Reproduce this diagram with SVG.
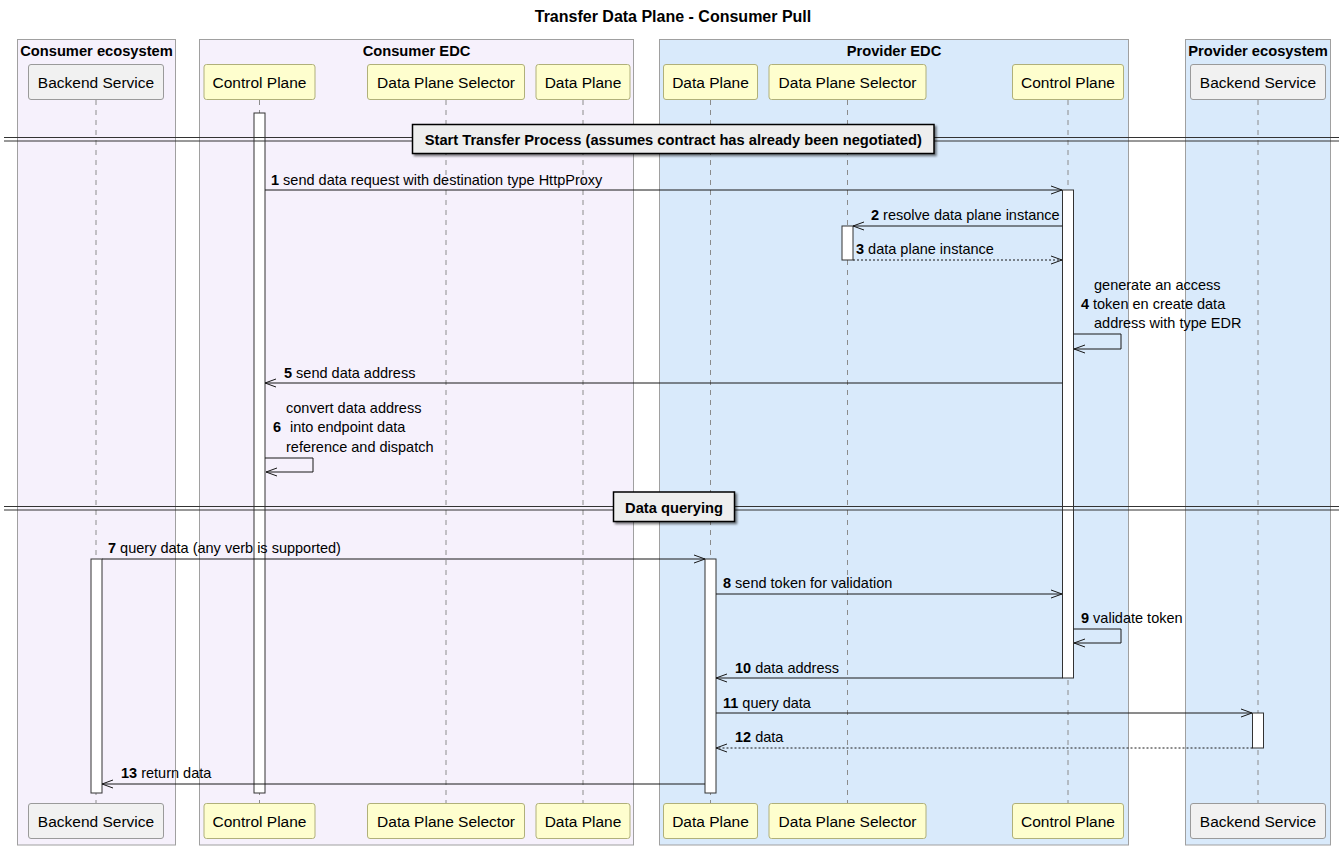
<svg xmlns="http://www.w3.org/2000/svg" width="1343" height="848" viewBox="0 0 1343 848">
<defs>
  <marker id="arrow" markerUnits="userSpaceOnUse" markerWidth="14" markerHeight="10" refX="11" refY="4" orient="auto" overflow="visible">
    <path d="M0,0 L11,4 L0,8" fill="none" stroke="#181818" stroke-width="1"/>
  </marker>
  <filter id="shadow" x="-5%" y="-20%" width="110%" height="150%">
    <feGaussianBlur in="SourceAlpha" stdDeviation="1.2"/>
    <feOffset dx="2" dy="2" result="o"/>
    <feComponentTransfer><feFuncA type="linear" slope="0.5"/></feComponentTransfer>
    <feMerge><feMergeNode/><feMergeNode in="SourceGraphic"/></feMerge>
  </filter>
</defs>
<style>
  text{font-family:"Liberation Sans",Arial,sans-serif;fill:#000}
  .title{font-size:16px;font-weight:bold}
  .box-title{font-size:14.7px;font-weight:bold}
  .p-label{font-size:15.5px}
  .msg{font-size:14.5px}
  .num{font-weight:bold}
  .grp-c{fill:#F6F1FC;stroke:#A0A0A0;stroke-width:1}
  .grp-p{fill:#D9EAFB;stroke:#A0A0A0;stroke-width:1}
  .part{fill:#FEFECE;stroke:#B0B07A;stroke-width:1}
  .ext{fill:#F1F1F1;stroke:#9A9A9A;stroke-width:1}
  .life{stroke:#8C8C8C;stroke-width:1;stroke-dasharray:5,5}
  .act{fill:#FFFFFF;stroke:#333333;stroke-width:1}
  .msgline{stroke:#181818;stroke-width:1;fill:none;marker-end:url(#arrow)}
  .dotted{stroke-dasharray:2,2}
  .div-line{stroke:#333333;stroke-width:1}
  .div-box{fill:#EEEEEE;stroke:#000000;stroke-width:1.5}
</style>

<rect width="1343" height="848" fill="#FFFFFF"/>

<text class="title" x="673" y="22" text-anchor="middle">Transfer Data Plane - Consumer Pull</text>

<!-- participant group boxes -->
<g id="boxes">
  <g id="box-consumer-ecosystem">
    <rect class="grp-c" x="17.5" y="39.5" width="158" height="805.5"/>
    <text class="box-title" x="96.5" y="56" text-anchor="middle">Consumer ecosystem</text>
  </g>
  <g id="box-consumer-edc">
    <rect class="grp-c" x="199.5" y="39.5" width="434" height="805.5"/>
    <text class="box-title" x="416.5" y="56" text-anchor="middle">Consumer EDC</text>
  </g>
  <g id="box-provider-edc">
    <rect class="grp-p" x="659.5" y="39.5" width="469" height="805.5"/>
    <text class="box-title" x="894" y="56" text-anchor="middle">Provider EDC</text>
  </g>
  <g id="box-provider-ecosystem">
    <rect class="grp-p" x="1185.5" y="39.5" width="145" height="805.5"/>
    <text class="box-title" x="1258" y="56" text-anchor="middle">Provider ecosystem</text>
  </g>
</g>

<!-- participants: head, foot, lifeline, activations -->
<g id="consumer-backend">
  <line class="life" x1="96" y1="100" x2="96" y2="803"/>
  <rect class="ext" x="28.5" y="64.5" width="135" height="35" rx="2.5"/>
  <text class="p-label" x="96" y="87.5" text-anchor="middle">Backend Service</text>
  <rect class="ext" x="28.5" y="803.5" width="135" height="35" rx="2.5"/>
  <text class="p-label" x="96" y="826.5" text-anchor="middle">Backend Service</text>
  <rect class="act" x="91" y="559" width="11" height="234"/>
</g>
<g id="consumer-control-plane">
  <line class="life" x1="259.5" y1="100" x2="259.5" y2="803"/>
  <rect class="part" x="204" y="64.5" width="111" height="35" rx="2.5"/>
  <text class="p-label" x="259.5" y="87.5" text-anchor="middle">Control Plane</text>
  <rect class="part" x="204" y="803.5" width="111" height="35" rx="2.5"/>
  <text class="p-label" x="259.5" y="826.5" text-anchor="middle">Control Plane</text>
  <rect class="act" x="254" y="113" width="11" height="680"/>
</g>
<g id="consumer-data-plane-selector">
  <line class="life" x1="446" y1="100" x2="446" y2="803"/>
  <rect class="part" x="367.5" y="64.5" width="157" height="35" rx="2.5"/>
  <text class="p-label" x="446" y="87.5" text-anchor="middle">Data Plane Selector</text>
  <rect class="part" x="367.5" y="803.5" width="157" height="35" rx="2.5"/>
  <text class="p-label" x="446" y="826.5" text-anchor="middle">Data Plane Selector</text>
</g>
<g id="consumer-data-plane">
  <line class="life" x1="583" y1="100" x2="583" y2="803"/>
  <rect class="part" x="536" y="64.5" width="94" height="35" rx="2.5"/>
  <text class="p-label" x="583" y="87.5" text-anchor="middle">Data Plane</text>
  <rect class="part" x="536" y="803.5" width="94" height="35" rx="2.5"/>
  <text class="p-label" x="583" y="826.5" text-anchor="middle">Data Plane</text>
</g>
<g id="provider-data-plane">
  <line class="life" x1="710.5" y1="100" x2="710.5" y2="803"/>
  <rect class="part" x="663.5" y="64.5" width="94" height="35" rx="2.5"/>
  <text class="p-label" x="710.5" y="87.5" text-anchor="middle">Data Plane</text>
  <rect class="part" x="663.5" y="803.5" width="94" height="35" rx="2.5"/>
  <text class="p-label" x="710.5" y="826.5" text-anchor="middle">Data Plane</text>
  <rect class="act" x="705" y="559" width="11" height="234"/>
</g>
<g id="provider-data-plane-selector">
  <line class="life" x1="847.5" y1="100" x2="847.5" y2="803"/>
  <rect class="part" x="769" y="64.5" width="157" height="35" rx="2.5"/>
  <text class="p-label" x="847.5" y="87.5" text-anchor="middle">Data Plane Selector</text>
  <rect class="part" x="769" y="803.5" width="157" height="35" rx="2.5"/>
  <text class="p-label" x="847.5" y="826.5" text-anchor="middle">Data Plane Selector</text>
  <rect class="act" x="842" y="226" width="11" height="34"/>
</g>
<g id="provider-control-plane">
  <line class="life" x1="1068" y1="100" x2="1068" y2="803"/>
  <rect class="part" x="1012.5" y="64.5" width="111" height="35" rx="2.5"/>
  <text class="p-label" x="1068" y="87.5" text-anchor="middle">Control Plane</text>
  <rect class="part" x="1012.5" y="803.5" width="111" height="35" rx="2.5"/>
  <text class="p-label" x="1068" y="826.5" text-anchor="middle">Control Plane</text>
  <rect class="act" x="1062.5" y="190" width="11" height="488"/>
</g>
<g id="provider-backend">
  <line class="life" x1="1258" y1="100" x2="1258" y2="803"/>
  <rect class="ext" x="1190.5" y="64.5" width="135" height="35" rx="2.5"/>
  <text class="p-label" x="1258" y="87.5" text-anchor="middle">Backend Service</text>
  <rect class="ext" x="1190.5" y="803.5" width="135" height="35" rx="2.5"/>
  <text class="p-label" x="1258" y="826.5" text-anchor="middle">Backend Service</text>
  <rect class="act" x="1252.5" y="713" width="11" height="35"/>
</g>

<!-- section dividers -->
<g id="divider-start">
  <line class="div-line" x1="4" y1="137.5" x2="1339" y2="137.5"/>
  <line class="div-line" x1="4" y1="141" x2="1339" y2="141"/>
  <rect class="div-box" x="412.5" y="124.5" width="521.5" height="29" filter="url(#shadow)"/>
  <text class="box-title" x="673.25" y="144.5" text-anchor="middle">Start Transfer Process (assumes contract has already been negotiated)</text>
</g>
<g id="divider-querying">
  <line class="div-line" x1="4" y1="506.5" x2="1339" y2="506.5"/>
  <line class="div-line" x1="4" y1="510" x2="1339" y2="510"/>
  <rect class="div-box" x="613.5" y="492" width="121" height="29.5" filter="url(#shadow)"/>
  <text class="box-title" x="674" y="513" text-anchor="middle">Data querying</text>
</g>

<!-- messages -->
<g id="connectors">
  <path class="msgline" d="M265,190 H1062"/>
  <text class="msg" x="271" y="185"><tspan class="num">1</tspan> send data request with destination type HttpProxy</text>

  <path class="msgline" d="M1062.5,226 H853"/>
  <text class="msg" x="871" y="220"><tspan class="num">2</tspan> resolve data plane instance</text>

  <path class="msgline dotted" d="M853,260 H1062"/>
  <text class="msg" x="856" y="254"><tspan class="num">3</tspan> data plane instance</text>

  <path class="msgline" d="M1073.5,334 H1121 V349 H1074"/>
  <text class="msg num" x="1081" y="309">4</text>
  <text class="msg" x="1094" y="290">generate an access</text>
  <text class="msg" x="1093" y="309">token en create data</text>
  <text class="msg" x="1094" y="328">address with type EDR</text>

  <path class="msgline" d="M1062.5,383 H265"/>
  <text class="msg" x="284" y="378"><tspan class="num">5</tspan> send data address</text>

  <path class="msgline" d="M265,458 H313 V472 H266"/>
  <text class="msg num" x="273" y="432">6</text>
  <text class="msg" x="286" y="413">convert data address</text>
  <text class="msg" x="290" y="432">into endpoint data</text>
  <text class="msg" x="286" y="451.5">reference and dispatch</text>

  <path class="msgline" d="M102,559 H705"/>
  <text class="msg" x="108" y="553"><tspan class="num">7</tspan> query data (any verb is supported)</text>

  <path class="msgline" d="M716,594 H1062"/>
  <text class="msg" x="723" y="588"><tspan class="num">8</tspan> send token for validation</text>

  <path class="msgline" d="M1073.5,629 H1121 V643 H1074"/>
  <text class="msg" x="1081" y="623"><tspan class="num">9</tspan> validate token</text>

  <path class="msgline" d="M1062.5,678 H716"/>
  <text class="msg" x="735" y="673"><tspan class="num">10</tspan> data address</text>

  <path class="msgline" d="M716,713 H1252"/>
  <text class="msg" x="723" y="707.5"><tspan class="num">11</tspan> query data</text>

  <path class="msgline dotted" d="M1252.5,748 H716"/>
  <text class="msg" x="735" y="742"><tspan class="num">12</tspan> data</text>

  <path class="msgline" d="M705,784 H102"/>
  <text class="msg" x="121" y="778"><tspan class="num">13</tspan> return data</text>
</g>
</svg>
